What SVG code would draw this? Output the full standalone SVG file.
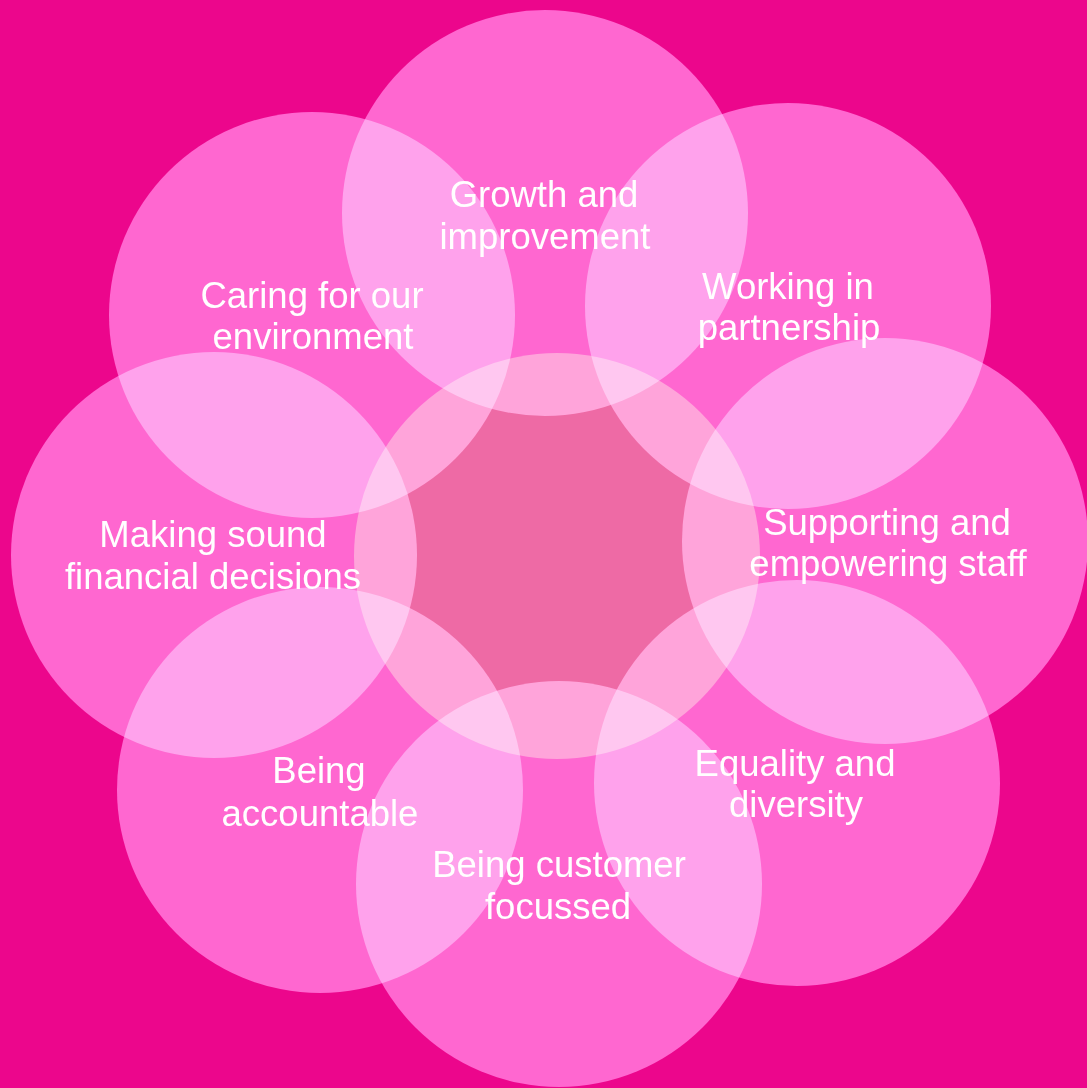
<svg xmlns="http://www.w3.org/2000/svg" width="1087" height="1088" viewBox="0 0 1087 1088">
  <style>
    .petal { fill: #FF6397; mix-blend-mode: screen; }
    .hub { fill: #1B6637; mix-blend-mode: screen; }
    .label { fill: #FFFFFF; font-family: "Liberation Sans", Arial, sans-serif; font-size: 36.5px; text-anchor: middle; }
  </style>
  <!-- magenta backdrop -->
  <rect x="0" y="0" width="1087" height="1088" fill="#EC068C"/>

  <!-- centre disc -->
  <g id="hub">
    <circle class="hub" cx="557" cy="556" r="203"/>
  </g>

  <!-- eight value circles arranged around the centre -->
  <g id="growth">
    <circle class="petal" cx="545" cy="213" r="203"/>
    <text class="label" x="544" y="207">Growth and</text>
    <text class="label" x="545" y="249">improvement</text>
  </g>
  <g id="partnership">
    <circle class="petal" cx="788" cy="306" r="203"/>
    <text class="label" x="788" y="299">Working in</text>
    <text class="label" x="789" y="340">partnership</text>
  </g>
  <g id="staff">
    <circle class="petal" cx="885" cy="541" r="203"/>
    <text class="label" x="887" y="535">Supporting and</text>
    <text class="label" x="888" y="576">empowering staff</text>
  </g>
  <g id="equality">
    <circle class="petal" cx="797" cy="783" r="203"/>
    <text class="label" x="795" y="776">Equality and</text>
    <text class="label" x="796" y="817">diversity</text>
  </g>
  <g id="customer">
    <circle class="petal" cx="559" cy="884" r="203"/>
    <text class="label" x="559" y="877">Being customer</text>
    <text class="label" x="558" y="919">focussed</text>
  </g>
  <g id="accountable">
    <circle class="petal" cx="320" cy="790" r="203"/>
    <text class="label" x="319" y="783">Being</text>
    <text class="label" x="320" y="826">accountable</text>
  </g>
  <g id="financial">
    <circle class="petal" cx="214" cy="555" r="203"/>
    <text class="label" x="213" y="547">Making sound</text>
    <text class="label" x="213" y="589">financial decisions</text>
  </g>
  <g id="environment">
    <circle class="petal" cx="312" cy="315" r="203"/>
    <text class="label" x="312" y="308">Caring for our</text>
    <text class="label" x="313" y="349">environment</text>
  </g>
</svg>
